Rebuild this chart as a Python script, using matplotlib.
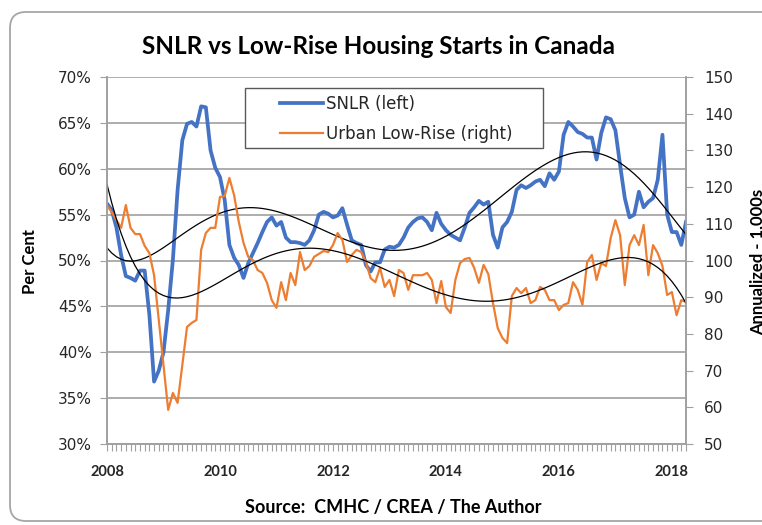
import numpy as np
import matplotlib
matplotlib.use('Agg')
import matplotlib.pyplot as plt
from matplotlib.patches import FancyBboxPatch, Rectangle
from matplotlib.lines import Line2D
from matplotlib.transforms import IdentityTransform

# monthly values, Jan 2008 .. Apr 2018
snlr = [56.2, 55.5, 53.6, 50.6, 48.3, 48.1, 47.8, 48.9, 48.9, 44.1,
        36.8, 38.0, 40.0, 44.6, 50.1, 57.7, 63.1, 64.9, 65.1, 64.6,
        66.8, 66.7, 62.0, 60.1, 59.1, 56.6, 51.7, 50.3, 49.5, 48.1,
        49.7, 50.8, 51.9, 53.1, 54.2, 54.7, 53.8, 54.2, 52.5, 52.0,
        52.0, 51.9, 51.7, 52.2, 53.3, 55.0, 55.3, 55.1, 54.7, 54.9,
        55.7, 53.9, 52.2, 51.9, 51.7, 49.5, 48.8, 49.8, 49.8, 51.2,
        51.5, 51.4, 51.7, 52.5, 53.6, 54.2, 54.6, 54.7, 54.2, 53.3,
        55.2, 54.0, 53.3, 52.8, 52.5, 52.2, 53.6, 55.2, 55.8, 56.5,
        56.1, 56.4, 52.8, 51.4, 53.6, 54.2, 55.3, 57.7, 58.2, 57.9,
        58.2, 58.6, 58.8, 58.1, 59.5, 58.8, 59.7, 63.7, 65.1, 64.6,
        64.0, 63.8, 63.4, 63.4, 61.0, 63.9, 65.6, 65.4, 64.2, 60.4,
        56.8, 54.7, 55.0, 57.5, 55.8, 56.4, 56.8, 58.8, 63.7, 55.0,
        53.1, 53.1, 51.7, 54.2]

urban = [115.0, 113.2, 111.0, 108.9, 115.1, 108.9, 107.2, 107.2, 104.0, 102.0,
         96.0, 83.8, 71.5, 59.3, 63.9, 61.2, 71.5, 81.9, 83.0, 83.8,
         102.9, 107.5, 108.9, 108.9, 117.3, 117.6, 122.5, 117.8, 110.5, 104.8,
         101.0, 100.1, 97.4, 96.6, 93.9, 89.2, 87.1, 94.1, 89.2, 96.6,
         93.3, 102.3, 97.4, 98.5, 101.0, 101.8, 102.6, 102.3, 104.2, 107.5,
         105.6, 99.6, 101.5, 102.9, 102.3, 99.6, 95.2, 94.1, 98.0, 92.8,
         94.7, 90.3, 97.4, 96.6, 92.0, 96.0, 96.0, 96.0, 96.6, 94.7,
         88.4, 94.4, 87.3, 85.7, 94.7, 99.3, 100.4, 100.7, 98.0, 93.9,
         98.8, 96.3, 88.4, 81.6, 78.9, 77.5, 90.3, 92.5, 91.1, 92.5,
         88.4, 89.2, 92.8, 92.0, 89.2, 89.2, 86.5, 87.9, 88.4, 94.1,
         92.0, 87.9, 99.6, 101.5, 94.7, 99.3, 98.5, 106.1, 111.0, 106.9,
         93.3, 104.2, 106.9, 104.2, 109.7, 96.0, 104.2, 102.0, 98.5, 90.6,
         91.4, 85.1, 89.2, 88.7]

year_labels = ['2008', '2010', '2012', '2014', '2016', '2018']
pct_ticks = [30, 35, 40, 45, 50, 55, 60, 65, 70]
starts_ticks = [50, 60, 70, 80, 90, 100, 110, 120, 130, 140, 150]

W, H = 762, 525
fig = plt.figure(figsize=(W / 100, H / 100), dpi=100)

# chart-area frame with rounded corners (runs off right edge)
frame = FancyBboxPatch((10, 4), 800, 509, boxstyle='round,pad=0,rounding_size=16',
                       transform=IdentityTransform(), fill=False,
                       edgecolor='#a6a6a6', linewidth=1.3)
fig.add_artist(frame)

x0, x1, ytop, ybot = 107, 686, 77, 444
ax = fig.add_axes([x0 / W, 1 - ybot / H, (x1 - x0) / W, (ybot - ytop) / H])
ax2 = ax.twinx()

months = np.arange(len(snlr))
blue = '#4472C4'
orange = '#ED7D31'
grid_c = '#a0a0a0'

ax.plot(months, snlr, color=blue, lw=2.7, solid_joinstyle='round')
ax2.plot(months, urban, color=orange, lw=1.6, solid_joinstyle='round')

# 6th order polynomial trend lines (as Excel does)
t = months + 1
p1 = np.polynomial.Polynomial.fit(t, snlr, 6)
p2 = np.polynomial.Polynomial.fit(t, urban, 6)
ax.plot(months, p1(t), color='black', lw=0.9, zorder=4)
ax2.plot(months, p2(t), color='black', lw=0.9)

ax.set_xlim(0, len(snlr) - 1)
ax.set_ylim(30, 70)
ax2.set_ylim(50, 150)

ax.set_yticks(pct_ticks)
ax.set_yticklabels([f'{v}%' for v in pct_ticks])
ax2.set_yticks(starts_ticks)
ax.set_xticks(np.arange(0, 121, 24))
ax.set_xticklabels(year_labels)
ax.set_xticks(months, minor=True)

ax.grid(axis='y', color=grid_c, lw=1.2)
ax.set_axisbelow(True)
for a in (ax, ax2):
    for s in a.spines.values():
        s.set_color(grid_c)
        s.set_linewidth(1.2)
    a.spines['top'].set_visible(False)

ax.tick_params(axis='y', length=5, color=grid_c, labelsize=11, labelcolor='#262626', pad=6)
ax2.tick_params(axis='y', length=5, color=grid_c, labelsize=11, labelcolor='#262626', pad=8)
ax.tick_params(axis='x', which='both', length=5, color=grid_c, width=0.8)
ax.tick_params(axis='x', which='major', pad=10)
for lbl in ax.get_xticklabels():
    lbl.set_fontfamily('Lato')
    lbl.set_fontweight('bold')
    lbl.set_fontsize(10.5)
    lbl.set_color('#262626')

fig.text(378 / W, 1 - 47 / H, 'SNLR vs Low-Rise Housing Starts in Canada',
         ha='center', va='center', fontsize=17.5, fontweight='bold', family='Lato')
fig.text(30 / W, 1 - 262 / H, 'Per Cent', rotation=90, ha='center', va='center',
         fontsize=12, fontweight='bold', family='Lato')
fig.text(758 / W, 1 - 262 / H, 'Annualized - 1,000s', rotation=90, ha='center', va='center',
         fontsize=12, fontweight='bold', family='Lato')
fig.text(393 / W, 1 - 507 / H, 'Source:  CMHC / CREA / The Author',
         ha='center', va='center', fontsize=13, fontweight='bold', family='Lato')

# legend box
box = Rectangle((245 / W, 1 - 148 / H), (543 - 245) / W, 60 / H, transform=fig.transFigure,
                facecolor='white', edgecolor='#595959', lw=1.0, zorder=5)
fig.add_artist(box)
handles = [Line2D([], [], color=blue, lw=2.7), Line2D([], [], color=orange, lw=1.6)]
leg = fig.legend(handles, ['SNLR (left)', 'Urban Low-Rise (right)'],
                 loc='upper left', bbox_to_anchor=(274 / W, 1 - 89 / H),
                 frameon=False, fontsize=12, handlelength=2.6, handletextpad=0.2,
                 labelspacing=0.75, borderpad=0.35, borderaxespad=0)
leg.set_zorder(6)
for txt in leg.get_texts():
    txt.set_color('#262626')

fig.savefig('out.png', dpi=100)
